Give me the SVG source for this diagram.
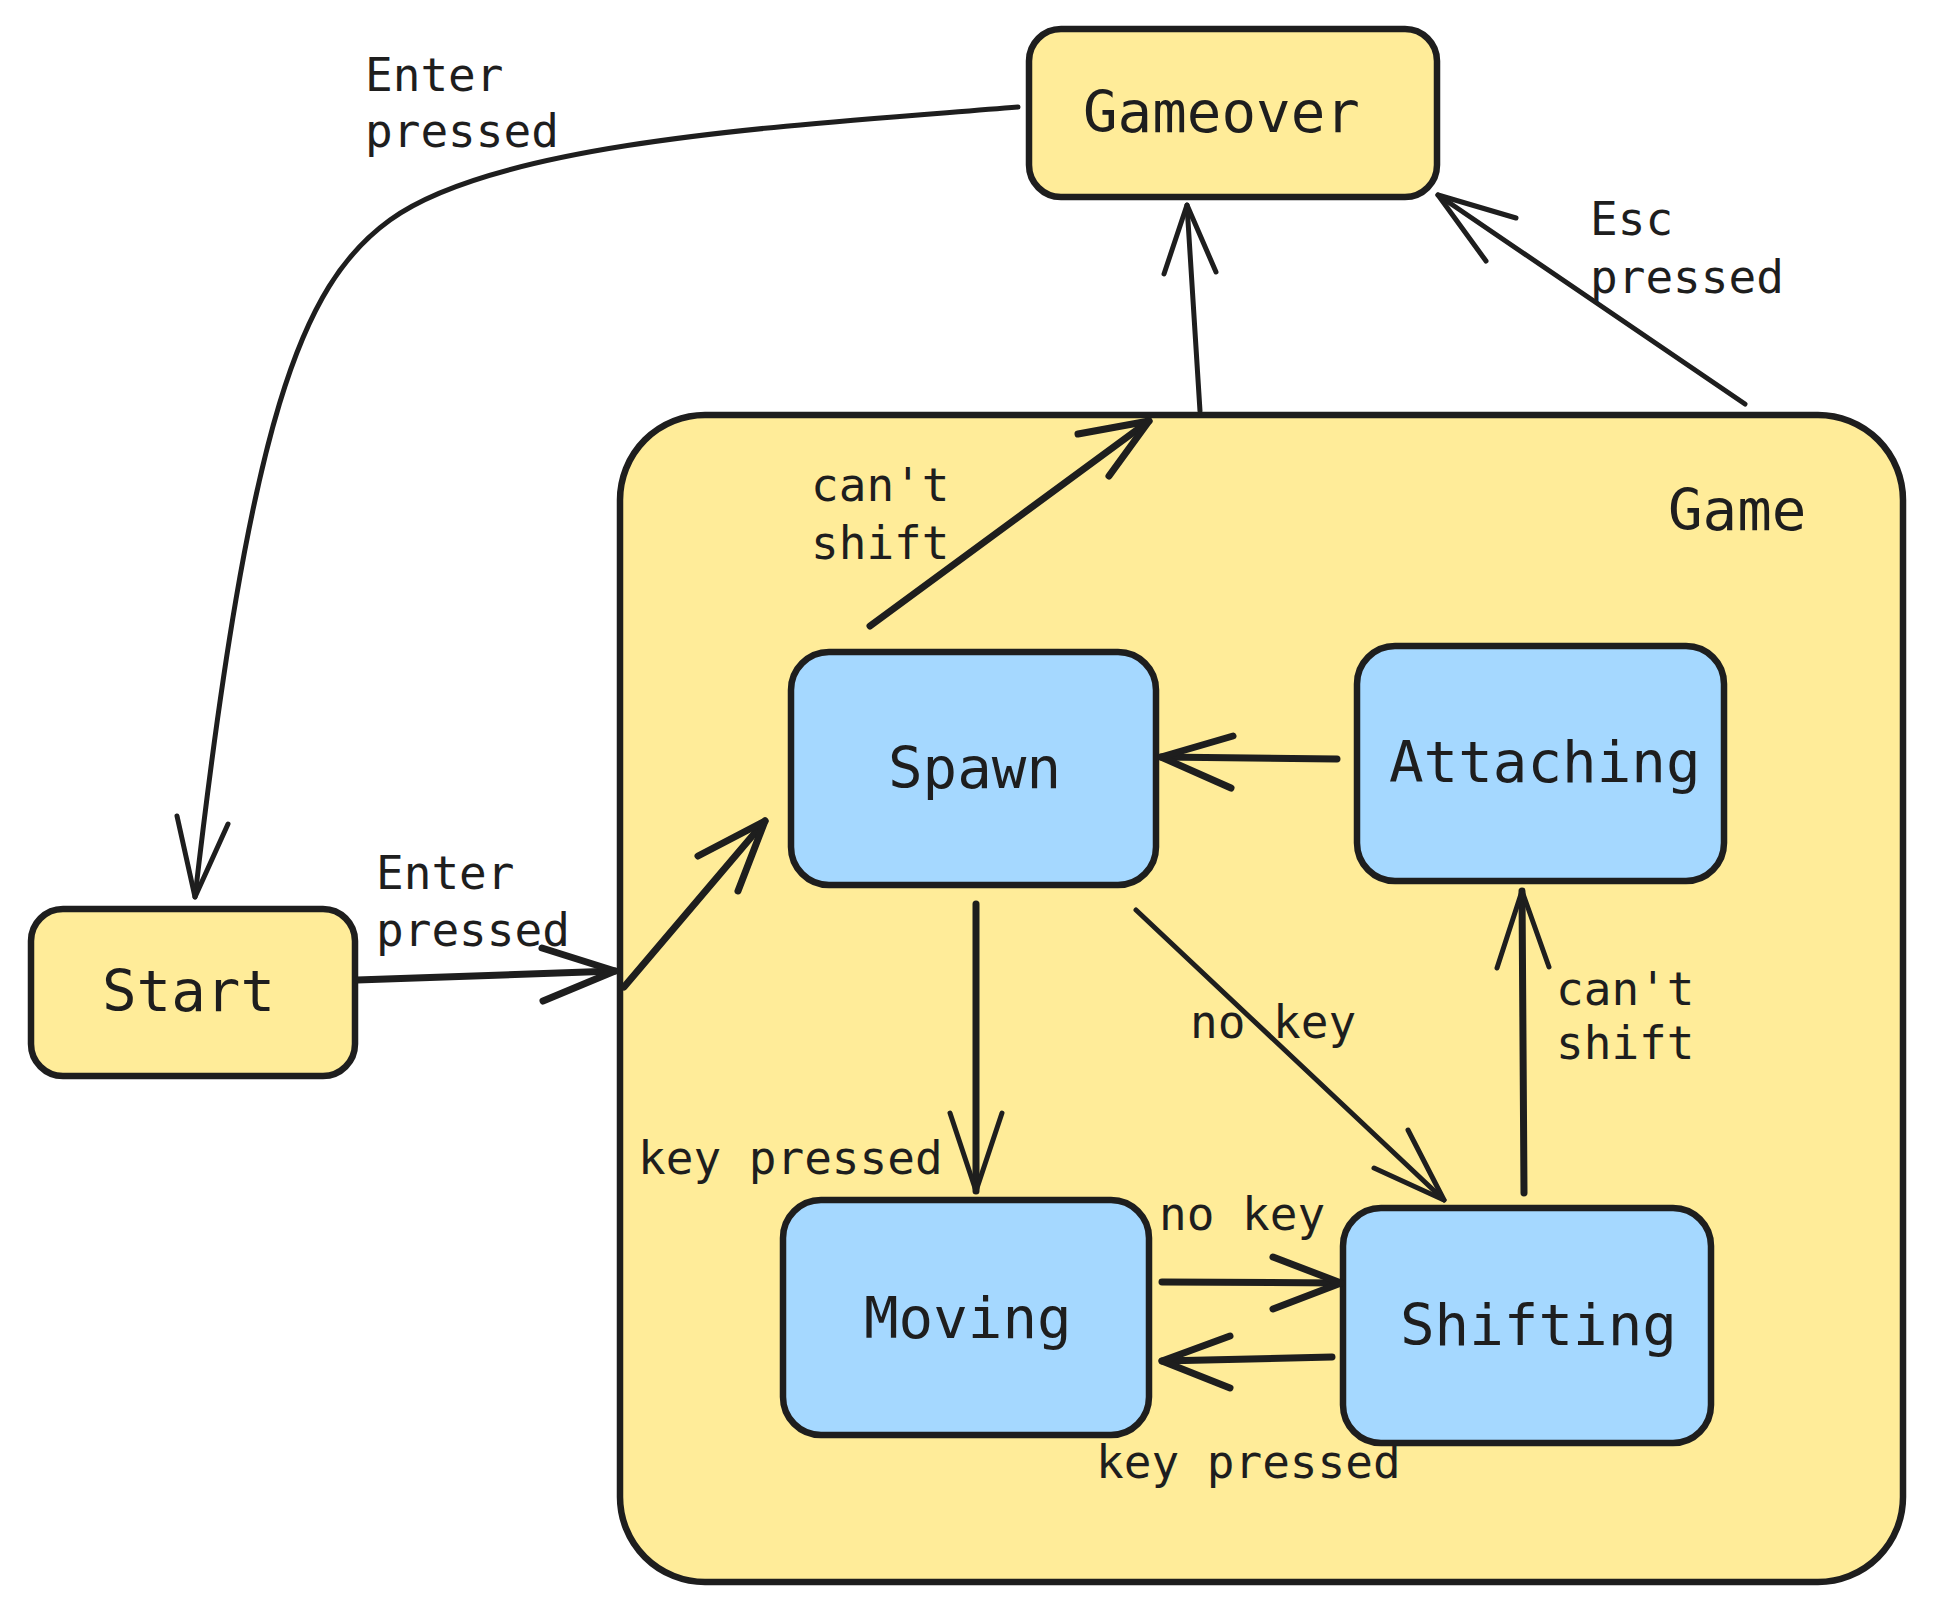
<svg xmlns="http://www.w3.org/2000/svg" width="1935" height="1611" viewBox="0 0 1935 1611">
<style>
.yel{fill:#ffec99;stroke:#1e1e1e;stroke-width:6.5}
.blu{fill:#a5d8ff;stroke:#1e1e1e;stroke-width:6.5}
.nl{font-family:"DejaVu Sans Mono","Liberation Mono",monospace;font-size:57.5px;fill:#1e1e1e}
.el{font-family:"DejaVu Sans Mono","Liberation Mono",monospace;font-size:46px;fill:#1e1e1e}
.c{fill:none;stroke:#1e1e1e;stroke-width:5;stroke-linecap:round;stroke-linejoin:round}
.t{stroke-width:7}
</style>
<rect width="1935" height="1611" fill="#ffffff"/>
<g id="node-game">
<rect class="yel" x="620" y="415" width="1283" height="1167" rx="85"/>
<text class="nl" x="1668" y="530">Game</text>
</g>
<g id="node-start">
<rect class="yel" x="31" y="909" width="324" height="167" rx="32"/>
<text class="nl" x="102" y="1011">Start</text>
</g>
<g id="node-gameover">
<rect class="yel" x="1029" y="29" width="408" height="168" rx="32"/>
<text class="nl" x="1083" y="132">Gameover</text>
</g>
<g id="node-spawn">
<rect class="blu" x="791" y="652" width="365" height="233" rx="38"/>
<text class="nl" x="888" y="788">Spawn</text>
</g>
<g id="node-attaching">
<rect class="blu" x="1357" y="646" width="367" height="235" rx="38"/>
<text class="nl" x="1389" y="782">Attaching</text>
</g>
<g id="node-moving">
<rect class="blu" x="783" y="1200" width="366" height="235" rx="38"/>
<text class="nl" x="864" y="1338">Moving</text>
</g>
<g id="node-shifting">
<rect class="blu" x="1343" y="1208" width="368" height="235" rx="38"/>
<text class="nl" x="1400" y="1345">Shifting</text>
</g>
<g id="connectors">
<path class="c" d="M1018,107 C800,125 500,140 390,220 C300,285 250,420 195,897"/>
<path class="c" d="M177,816 L195,897 L228,824"/>
<text class="el" x="365" y="91">Enter</text>
<text class="el" x="365" y="147">pressed</text>

<path class="c t" d="M357,980 L615,971"/>
<path class="c t" d="M542,948 L615,971 L543,1001"/>
<text class="el" x="376" y="889">Enter</text>
<text class="el" x="376" y="946">pressed</text>

<path class="c t" d="M624,987 L765,821"/>
<path class="c t" d="M698,856 L765,821 L738,891"/>

<path class="c t" d="M870,626 L1149,421"/>
<path class="c t" d="M1078,434 L1149,421 L1109,476"/>
<text class="el" x="811" y="501">can't</text>
<text class="el" x="811" y="559">shift</text>

<path class="c" d="M1200,411 L1187,205"/>
<path class="c" d="M1164,274 L1187,205 L1216,272"/>

<path class="c" d="M1745,404 L1438,195"/>
<path class="c" d="M1486,261 L1438,195 L1516,218"/>
<text class="el" x="1590" y="235">Esc</text>
<text class="el" x="1590" y="293">pressed</text>

<path class="c t" d="M1337,759 L1161,757"/>
<path class="c t" d="M1233,736 L1161,757 L1231,788"/>

<path class="c t" d="M976,904 L976,1191"/>
<path class="c" d="M950,1113 L976,1191 L1002,1113"/>
<text class="el" x="638" y="1174">key pressed</text>

<path class="c" d="M1136,910 L1444,1200"/>
<path class="c" d="M1408,1130 L1444,1200 L1374,1168"/>
<text class="el" x="1190" y="1038">no key</text>

<path class="c t" d="M1524,1193 L1522,891"/>
<path class="c" d="M1497,968 L1522,891 L1549,967"/>
<text class="el" x="1556" y="1005">can't</text>
<text class="el" x="1556" y="1059">shift</text>

<path class="c t" d="M1162,1282 L1341,1283"/>
<path class="c t" d="M1273,1257 L1341,1283 L1273,1309"/>
<text class="el" x="1159" y="1230">no key</text>

<path class="c t" d="M1332,1357 L1162,1361"/>
<path class="c t" d="M1230,1336 L1162,1361 L1230,1388"/>
<text class="el" x="1096" y="1478">key pressed</text>
</g>
</svg>
